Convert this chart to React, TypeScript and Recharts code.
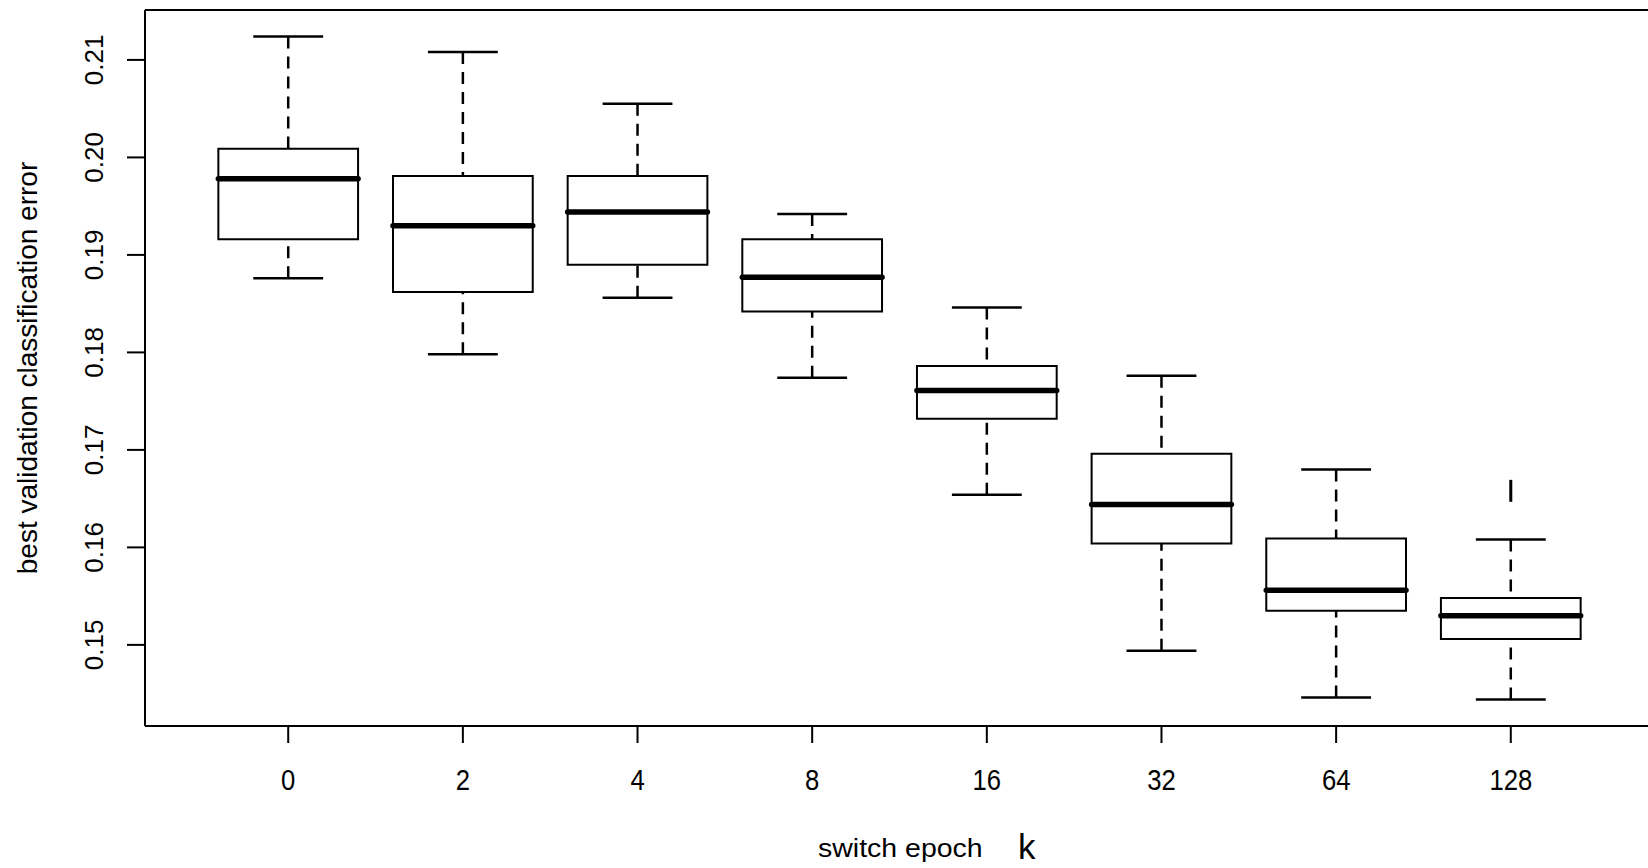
import {
  ComposedChart,
  ReferenceArea,
  ReferenceLine,
  Scatter,
  XAxis,
  YAxis,
} from "recharts";

// box statistics per switch epoch
const CATEGORIES = ["0", "2", "4", "8", "16", "32", "64", "128"];
const WHISKER_LOW = [0.1876, 0.1798, 0.1856, 0.1774, 0.1654, 0.1494, 0.1446, 0.1444];
const Q1 = [0.1916, 0.1862, 0.189, 0.1842, 0.1732, 0.1604, 0.1535, 0.1506];
const MEDIAN = [0.1978, 0.193, 0.1944, 0.1877, 0.1761, 0.1644, 0.1556, 0.153];
const Q3 = [0.2009, 0.1981, 0.1981, 0.1916, 0.1786, 0.1696, 0.1609, 0.1548];
const WHISKER_HIGH = [0.2124, 0.2108, 0.2055, 0.1942, 0.1846, 0.1776, 0.168, 0.1608];
const OUTLIER_CATEGORY = ["128"];
const OUTLIER_VALUE = [0.1658];
const Y_TICKS = [0.15, 0.16, 0.17, 0.18, 0.19, 0.2, 0.21];

const FONT = "'Liberation Sans', Arial, Helvetica, sans-serif";
const BOX_HALF = 0.4;
const CAP_HALF = 0.2;

const boxes = CATEGORIES.map((label, i) => ({
  x: i + 1,
  label,
  lo: WHISKER_LOW[i],
  q1: Q1[i],
  med: MEDIAN[i],
  q3: Q3[i],
  hi: WHISKER_HIGH[i],
}));

const outliers = OUTLIER_CATEGORY.map((c, i) => ({
  x: CATEGORIES.indexOf(c) + 1,
  y: OUTLIER_VALUE[i],
}));

// R-style 4% padding on both axes
const allY = [...WHISKER_LOW, ...WHISKER_HIGH, ...OUTLIER_VALUE];
const yMin = Math.min(...allY);
const yMax = Math.max(...allY);
const yPad = (yMax - yMin) * 0.04;
const Y_DOMAIN = [yMin - yPad, yMax + yPad];
const xPad = CATEGORIES.length * 0.04;
const X_DOMAIN = [0.5 - xPad, CATEGORIES.length + 0.5 + xPad];

function XTick(props: any) {
  const { x, payload } = props;
  return (
    <text
      transform={`translate(${x} 790) scale(0.95 1.1)`}
      textAnchor="middle"
      fontSize={27}
      fontFamily={FONT}
      fill="#000"
    >
      {CATEGORIES[payload.value - 1]}
    </text>
  );
}

function YTick(props: any) {
  const { y, payload } = props;
  const cx = 94;
  return (
    <text
      x={cx}
      y={y}
      transform={`rotate(-90 ${cx} ${y})`}
      textAnchor="middle"
      dominantBaseline="central"
      fontSize={26}
      fontFamily={FONT}
      fill="#000"
    >
      {payload.value.toFixed(2)}
    </text>
  );
}

function OutlierMark(props: any) {
  const { cx, cy } = props;
  if (cx == null || cy == null) return null;
  return <line x1={cx} x2={cx} y1={cy - 11} y2={cy + 11} stroke="#000" strokeWidth={3} />;
}

export default function App() {
  return (
    <div
      style={{
        position: "fixed",
        left: 0,
        top: 0,
        width: 1648,
        height: 868,
        overflow: "hidden",
        background: "#fff",
        fontFamily: FONT,
      }}
    >
      <ComposedChart
        width={1660}
        height={868}
        data={boxes}
        margin={{ top: 10, right: 6, bottom: 0, left: 0 }}
      >
        <XAxis
          type="number"
          dataKey="x"
          domain={X_DOMAIN}
          ticks={boxes.map((b) => b.x)}
          allowDataOverflow
          height={142}
          tick={XTick}
          tickSize={17}
          tickLine={{ stroke: "#000", strokeWidth: 2 }}
          axisLine={{ stroke: "#000", strokeWidth: 2 }}
          label={{
            content: () => (
              <g fontFamily={FONT} fill="#000">
                <text transform="translate(818 857) scale(1.14 1)" fontSize={25}>
                  switch epoch
                </text>
                <text x={1018} y={859} fontSize={35}>
                  k
                </text>
              </g>
            ),
          }}
        />
        <YAxis
          type="number"
          domain={Y_DOMAIN}
          ticks={Y_TICKS}
          allowDataOverflow
          width={145}
          tick={YTick}
          tickSize={18}
          tickLine={{ stroke: "#000", strokeWidth: 2 }}
          axisLine={{ stroke: "#000", strokeWidth: 2 }}
          label={{
            content: () => (
              <text
                x={37}
                y={368}
                transform="rotate(-90 37 368)"
                textAnchor="middle"
                fontSize={28}
                fontFamily={FONT}
                fill="#000"
              >
                best validation classification error
              </text>
            ),
          }}
        />
        {/* top edge of the plot frame */}
        <ReferenceLine y={Y_DOMAIN[1]} stroke="#000" strokeWidth={2} />
        {boxes.map((b) => (
          <ReferenceArea
            key={`box-${b.x}`}
            x1={b.x - BOX_HALF}
            x2={b.x + BOX_HALF}
            y1={b.q1}
            y2={b.q3}
            fill="none"
            fillOpacity={0}
            stroke="#000"
            strokeWidth={2}
            strokeOpacity={1}
          />
        ))}
        {boxes.map((b) => (
          <ReferenceLine
            key={`wu-${b.x}`}
            segment={[{ x: b.x, y: b.hi }, { x: b.x, y: b.q3 }]}
            stroke="#000"
            strokeWidth={2.5}
            strokeDasharray="12 8"
          />
        ))}
        {boxes.map((b) => (
          <ReferenceLine
            key={`wl-${b.x}`}
            segment={[{ x: b.x, y: b.lo }, { x: b.x, y: b.q1 }]}
            stroke="#000"
            strokeWidth={2.5}
            strokeDasharray="12 8"
          />
        ))}
        {boxes.map((b) => (
          <ReferenceLine
            key={`cu-${b.x}`}
            segment={[{ x: b.x - CAP_HALF, y: b.hi }, { x: b.x + CAP_HALF, y: b.hi }]}
            stroke="#000"
            strokeWidth={2.5}
          />
        ))}
        {boxes.map((b) => (
          <ReferenceLine
            key={`cl-${b.x}`}
            segment={[{ x: b.x - CAP_HALF, y: b.lo }, { x: b.x + CAP_HALF, y: b.lo }]}
            stroke="#000"
            strokeWidth={2.5}
          />
        ))}
        {boxes.map((b) => (
          <ReferenceLine
            key={`med-${b.x}`}
            segment={[{ x: b.x - BOX_HALF, y: b.med }, { x: b.x + BOX_HALF, y: b.med }]}
            stroke="#000"
            strokeWidth={5.5}
            strokeLinecap="round"
          />
        ))}
        <Scatter
          data={outliers}
          dataKey="y"
          shape={OutlierMark}
          isAnimationActive={false}
        />
      </ComposedChart>
    </div>
  );
}
